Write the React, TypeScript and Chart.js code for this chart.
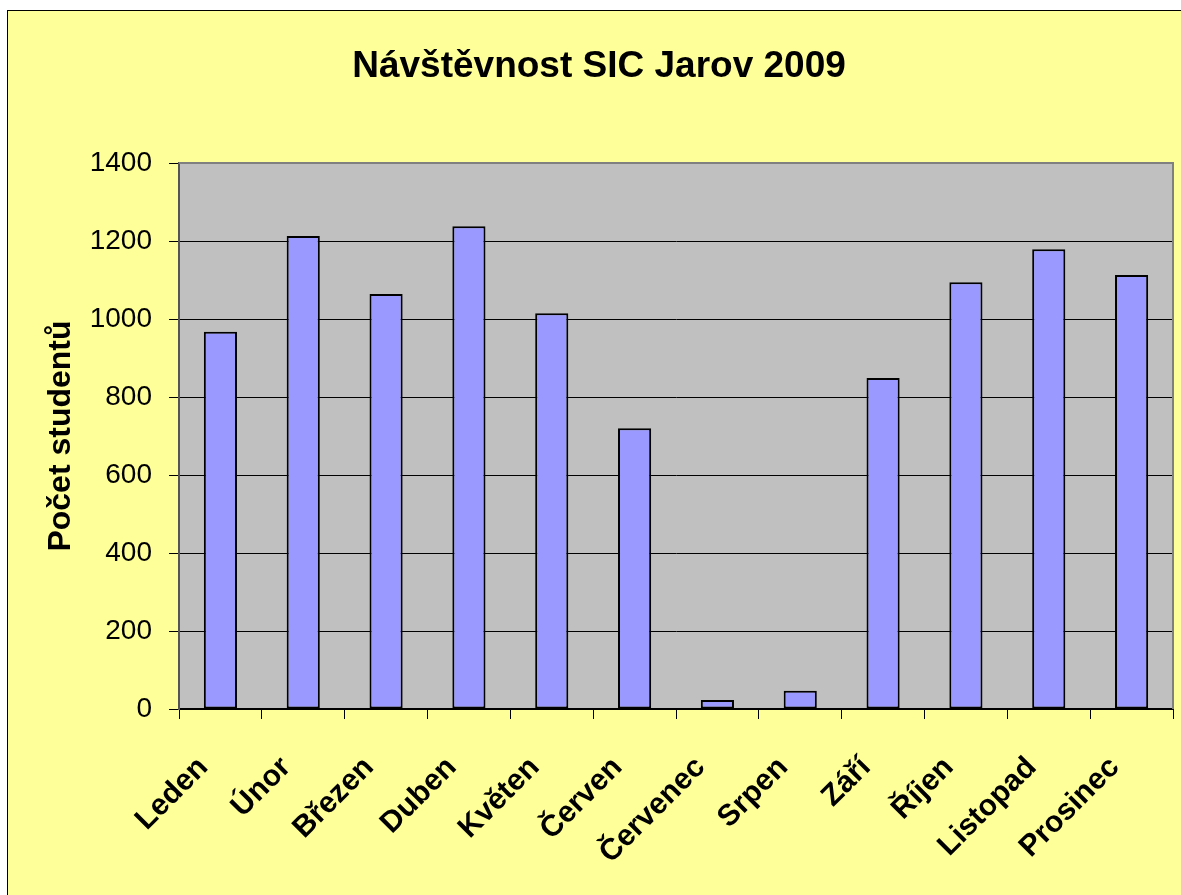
import { useEffect, useRef } from "react";
import { Chart, registerables } from "chart.js";

Chart.register(...registerables);

const TITLE = "Návštěvnost SIC Jarov 2009";
const Y_TITLE = "Počet studentů";
const months = ["Leden", "Únor", "Březen", "Duben", "Květen", "Červen", "Červenec", "Srpen", "Září", "Říjen", "Listopad", "Prosinec"];
const visitors = [967, 1213, 1064, 1238, 1015, 720, 23, 47, 849, 1094, 1179, 1113];
const Y_MIN = 0;
const Y_MAX = 1400;
const Y_STEP = 200;

const FONT = "'Liberation Sans', Arial, sans-serif";

const deco = {
  id: "deco",
  beforeDraw(chart: any) {
    const { ctx, chartArea: a } = chart;
    ctx.save();
    ctx.fillStyle = "#C0C0C0";
    ctx.fillRect(a.left, a.top, a.right - a.left, a.bottom - a.top);
    ctx.restore();
  },
  afterDraw(chart: any) {
    const { ctx, chartArea: a } = chart;
    ctx.save();
    ctx.strokeStyle = "#808080";
    ctx.lineWidth = 2;
    ctx.beginPath();
    ctx.moveTo(a.left, a.top);
    ctx.lineTo(a.right, a.top);
    ctx.lineTo(a.right, a.bottom);
    ctx.stroke();

    ctx.fillStyle = "#000";
    ctx.font = `bold 37px ${FONT}`;
    ctx.textAlign = "center";
    ctx.textBaseline = "alphabetic";
    ctx.fillText(TITLE, 591, 66);

    ctx.translate(62, (a.top + a.bottom) / 2);
    ctx.rotate(-Math.PI / 2);
    ctx.font = `bold 32px ${FONT}`;
    ctx.fillText(Y_TITLE, 0, 0);
    ctx.restore();
  },
};

export default function App() {
  const ref = useRef<HTMLCanvasElement>(null);
  useEffect(() => {
    if (!ref.current) return;
    const chart = new Chart(ref.current, {
      type: "bar",
      data: {
        labels: months,
        datasets: [
          {
            data: visitors,
            backgroundColor: "#9999FF",
            borderColor: "#000000",
            borderWidth: 2,
            borderSkipped: false,
            barPercentage: 0.4,
            categoryPercentage: 1,
          },
        ],
      },
      options: {
        animation: false,
        responsive: false,
        devicePixelRatio: 1,
        layout: { padding: { top: 152, right: 8, left: 0, bottom: 0 } },
        plugins: { legend: { display: false }, tooltip: { enabled: false }, title: { display: false } },
        scales: {
          x: {
            ticks: {
              minRotation: 45,
              maxRotation: 45,
              autoSkip: false,
              color: "#000",
              font: { family: FONT, size: 30, weight: "bold" },
              padding: 31,
              labelOffset: -17,
            },
            grid: { drawOnChartArea: false, tickLength: 10, color: "#000", lineWidth: 1 },
            border: { color: "#000", width: 2 },
            afterFit(s: any) {
              s.height = 186;
              s.paddingLeft = 0;
              s.paddingRight = 0;
            },
          },
          y: {
            min: Y_MIN,
            max: Y_MAX,
            ticks: {
              stepSize: Y_STEP,
              color: "#000",
              font: { family: FONT, size: 28 },
              padding: 17,
              callback: (v: any) => String(v),
            },
            grid: { color: "#000", lineWidth: 1, tickLength: 10 },
            border: { color: "#555", width: 2 },
            afterFit(s: any) {
              s.width = 171;
              s.paddingTop = 0;
              s.paddingBottom = 0;
            },
          },
        },
      },
      plugins: [deco],
    } as any);
    return () => chart.destroy();
  }, []);

  return (
    <div
      style={{
        position: "fixed",
        left: 7,
        top: 10,
        width: 1200,
        height: 900,
        background: "#FFFF99",
        borderLeft: "1px solid #000",
        borderTop: "1px solid #000",
        overflow: "hidden",
      }}
    >
      <canvas ref={ref} width={1173} height={884} style={{ display: "block", width: 1173, height: 884 }} />
    </div>
  );
}
